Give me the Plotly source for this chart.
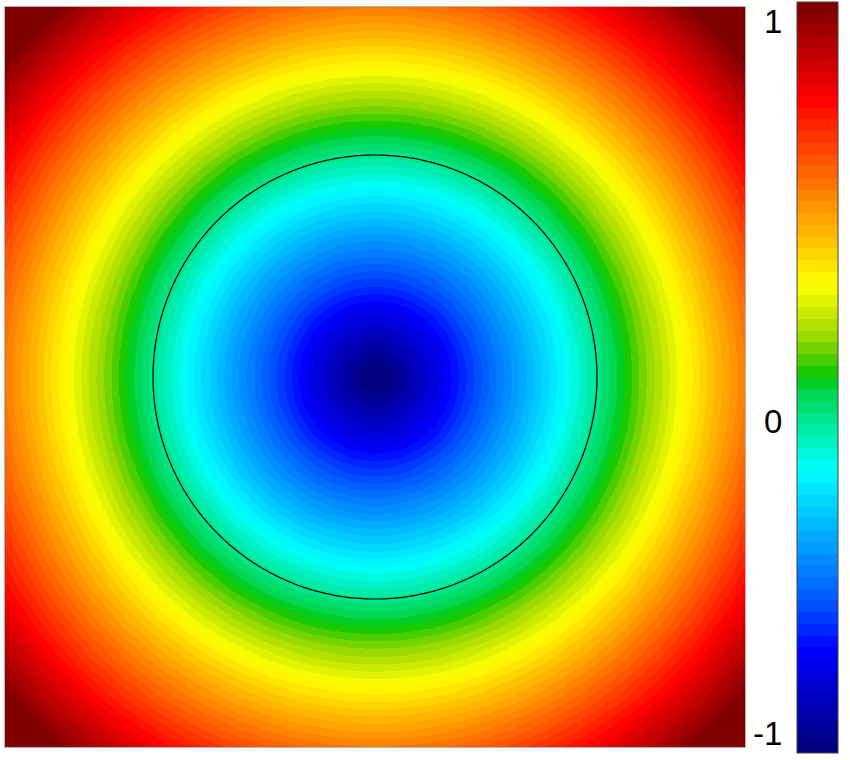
import numpy as np
import plotly.graph_objects as go

# ---- data ----
x_limits = [-1.0, 1.0]
y_limits = [-1.0, 1.0]
n_grid = 241
circle_radius = 0.6          # zero level of the signed-distance field
color_min = -0.577           # value at bottom of colour bar
color_max = 0.723            # value at top of colour bar
n_levels = 64                # number of discrete colour bands

cmap_pos = [0.0, 0.137, 0.2, 0.377, 0.42, 0.484, 0.5, 0.53, 0.56, 0.623, 0.87, 1.0]
cmap_rgb = [(0, 0, 120), (0, 0, 255), (0, 85, 255), (0, 255, 255), (0, 240, 185),
            (0, 212, 70), (0, 200, 0), (95, 208, 0), (165, 220, 0),
            (255, 255, 0), (255, 0, 0), (120, 0, 0)]

tick_values = [color_max, 0.0, color_min]
tick_labels = ["1", "0", "-1"]
tick_shift = [19, 2, -20]

# ---- field: signed distance to the circle ----
xs = np.linspace(x_limits[0], x_limits[1], n_grid)
ys = np.linspace(y_limits[0], y_limits[1], n_grid)
XX, YY = np.meshgrid(xs, ys)
Z = np.sqrt(XX ** 2 + YY ** 2) - circle_radius


def interp(t):
    for k in range(len(cmap_pos) - 1):
        if cmap_pos[k] <= t <= cmap_pos[k + 1]:
            u = (t - cmap_pos[k]) / (cmap_pos[k + 1] - cmap_pos[k])
            return tuple(int(round(a + (b - a) * u)) for a, b in zip(cmap_rgb[k], cmap_rgb[k + 1]))
    return cmap_rgb[-1]


colorscale = []
for i in range(n_levels):
    c = "rgb(%d,%d,%d)" % interp((i + 0.5) / n_levels)
    colorscale.append([i / n_levels, c])
    colorscale.append([(i + 1) / n_levels, c])

# ---- layout geometry (pixels) ----
W, H = 850, 760
plot_l, plot_r, plot_t, plot_b = 5, 745, 7, 747
pw, ph = plot_r - plot_l, plot_b - plot_t
cb_left, cb_right, cb_top, cb_bottom = 797, 838, 2, 753


def px_x(p):
    return (p - plot_l) / pw


def px_y(p):
    return (plot_b - p) / ph


cb_len = cb_bottom - cb_top

fig = go.Figure()
fig.add_trace(go.Heatmap(
    x=xs, y=ys, z=Z, zmin=color_min, zmax=color_max,
    colorscale=colorscale, zsmooth="best", hoverinfo="skip",
    colorbar=dict(
        x=px_x(cb_left), xanchor="left", xpad=0,
        y=px_y((cb_top + cb_bottom) / 2), yanchor="middle", ypad=0,
        lenmode="pixels", len=cb_len, thickness=cb_right - cb_left,
        thicknessmode="pixels",
        outlinewidth=1, outlinecolor="#444",
        showticklabels=False, ticks="",
    ),
))
fig.add_trace(go.Contour(
    x=xs, y=ys, z=Z, showscale=False, hoverinfo="skip",
    contours=dict(start=0, end=0, size=1, coloring="none"),
    line=dict(color="black", width=1.2),
))

# zero line on colour bar
zero_frac = (0 - color_min) / (color_max - color_min)
zero_px = cb_bottom - zero_frac * cb_len
fig.add_shape(type="line", xref="paper", yref="paper",
              x0=px_x(cb_left), x1=px_x(cb_right),
              y0=px_y(zero_px), y1=px_y(zero_px),
              line=dict(color="#333", width=1))

for v, lab, sh in zip(tick_values, tick_labels, tick_shift):
    frac = (v - color_min) / (color_max - color_min)
    ypx = cb_bottom - frac * cb_len + sh
    fig.add_annotation(x=px_x(784), y=px_y(ypx), xref="paper", yref="paper",
                       text=lab, showarrow=False, xanchor="right", yanchor="middle",
                       font=dict(family="Liberation Sans, Arial", size=33, color="black"))

axis_common = dict(showgrid=False, zeroline=False, showticklabels=False, ticks="",
                   showline=True, linecolor="#b4b4b4", linewidth=1, mirror=True)
fig.update_layout(
    width=W, height=H,
    margin=dict(l=plot_l, r=W - plot_r, t=plot_t, b=H - plot_b, autoexpand=False),
    paper_bgcolor="white", plot_bgcolor="white",
    xaxis=dict(range=x_limits, **axis_common),
    yaxis=dict(range=y_limits, **axis_common),
    showlegend=False,
)
fig.write_html("out.html", config={"displayModeBar": False},
               post_script="document.body.style.margin='0';document.body.style.overflow='hidden';")
